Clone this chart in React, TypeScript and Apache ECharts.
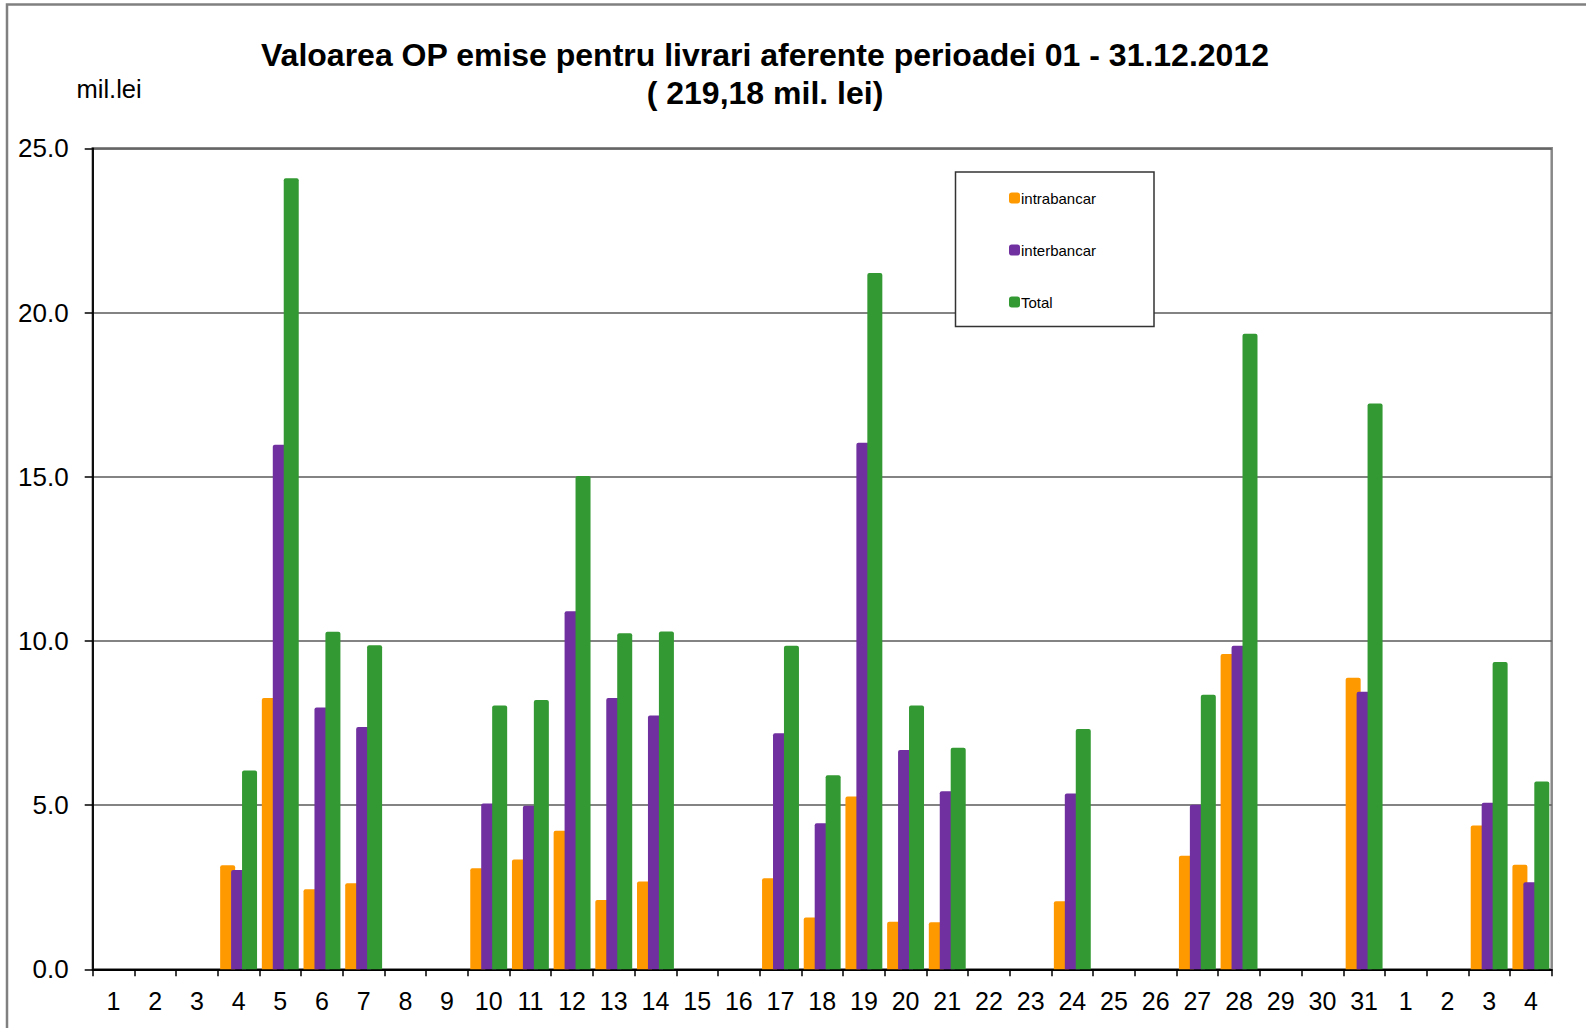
import React, { useEffect, useRef } from "react";
import * as echarts from "echarts";

const days = [
  "1", "2", "3", "4", "5", "6", "7", "8", "9", "10", "11", "12", "13", "14", "15", "16",
  "17", "18", "19", "20", "21", "22", "23", "24", "25", "26", "27", "28", "29", "30", "31",
  "1", "2", "3", "4",
];

const intrabancar = [
  null, null, null, 3.17, 8.26, 2.44, 2.62, null, null, 3.08, 3.34, 4.22, 2.11, 2.67, null, null,
  2.77, 1.58, 5.26, 1.45, 1.43, null, null, 2.07, null, null, 3.46, 9.6, null, null, 8.88,
  null, null, 4.38, 3.18,
];

const interbancar = [
  null, null, null, 3.02, 15.97, 7.97, 7.38, null, null, 5.05, 4.98, 10.9, 8.26, 7.73, null, null,
  7.19, 4.45, 16.03, 6.68, 5.42, null, null, 5.35, null, null, 5.01, 9.85, null, null, 8.45,
  null, null, 5.07, 2.65,
];

const total = [
  null, null, null, 6.05, 24.09, 10.28, 9.87, null, null, 8.03, 8.2, 15.02, 10.23, 10.29, null, null,
  9.85, 5.91, 21.2, 8.03, 6.75, null, null, 7.32, null, null, 8.36, 19.35, null, null, 17.23,
  null, null, 9.36, 5.72,
];

const seriesNames = ["intrabancar", "interbancar", "Total"];
const seriesColors = ["#FF9900", "#7030A0", "#339933"];

const titleLine1 = "Valoarea OP emise pentru livrari aferente perioadei 01 - 31.12.2012";
const titleLine2 = "( 219,18 mil. lei)";
const unitLabel = "mil.lei";

const FONT = "'Liberation Sans', Arial, sans-serif";

export default function App() {
  const ref = useRef<HTMLDivElement>(null);

  useEffect(() => {
    if (!ref.current) return;
    const chart = echarts.init(ref.current, undefined, { renderer: "svg" });
    const dataSets = [intrabancar, interbancar, total];

    chart.setOption({
      animation: false,
      backgroundColor: "#ffffff",
      textStyle: { fontFamily: FONT },
      title: {
        text: titleLine1 + "\n" + titleLine2,
        left: 765,
        top: 36,
        padding: 0,
        textAlign: "center",
        textStyle: {
          fontFamily: FONT,
          fontSize: 32,
          fontWeight: "bold",
          color: "#000",
          lineHeight: 38,
        },
      },
      legend: {
        orient: "vertical",
        left: 1009,
        top: 190,
        z: 6,
        padding: 0,
        itemWidth: 11,
        itemHeight: 11,
        itemGap: 36,
        icon: "roundRect",
        textStyle: { fontFamily: FONT, fontSize: 15, color: "#000", lineHeight: 16, padding: [0, 0, 0, -4] },
        data: seriesNames,
      },
      graphic: [
        {
          type: "rect",
          z: 1,
          silent: true,
          shape: { x: 7, y: 4.5, width: 1700, height: 1200 },
          style: { fill: "none", stroke: "#808080", lineWidth: 2.5 },
        },
        {
          type: "rect",
          z: 5,
          silent: true,
          shape: { x: 955.5, y: 172, width: 198.5, height: 154.5 },
          style: { fill: "#ffffff", stroke: "#333333", lineWidth: 1.5 },
        },
        {
          type: "text",
          z: 5,
          x: 76.5,
          y: 89,
          style: {
            text: unitLabel,
            fontFamily: FONT,
            fontSize: 25.5,
            fill: "#000",
            verticalAlign: "middle",
            align: "left",
          },
        },
      ],
      grid: {
        left: 92.7,
        right: 34.3,
        top: 148.3,
        bottom: 58.7,
        show: true,
        borderColor: "#888888",
        borderWidth: 2.5,
        containLabel: false,
      },
      xAxis: {
        type: "category",
        data: days,
        boundaryGap: true,
        axisLine: { show: true, lineStyle: { color: "#000", width: 1.8 } },
        axisTick: { show: true, length: 7, alignWithLabel: false, lineStyle: { color: "#000", width: 1.5 } },
        axisLabel: {
          interval: 0,
          margin: 19,
          fontFamily: FONT,
          fontSize: 25,
          color: "#000",
        },
        splitLine: { show: false },
      },
      yAxis: {
        type: "value",
        min: 0,
        max: 25,
        interval: 5,
        axisLine: { show: true, lineStyle: { color: "#000", width: 1.8 } },
        axisTick: { show: true, length: 8, lineStyle: { color: "#000", width: 1.5 } },
        axisLabel: {
          margin: 24,
          fontFamily: FONT,
          fontSize: 26,
          color: "#000",
          formatter: (v: number) => v.toFixed(1),
        },
        splitLine: { show: true, lineStyle: { color: "#5a5a5a", width: 1.6 } },
      },
      series: seriesNames.map((name, i) => ({
        name,
        type: "bar",
        data: dataSets[i],
        barWidth: 15,
        barGap: "-27%",
        itemStyle: { color: seriesColors[i], borderRadius: [2, 2, 0, 0] },
        z: 2 + i,
      })),
    });

    return () => chart.dispose();
  }, []);

  return (
    <div
      ref={ref}
      style={{ position: "fixed", left: 0, top: 0, width: 1586, height: 1028, background: "#fff" }}
    />
  );
}
